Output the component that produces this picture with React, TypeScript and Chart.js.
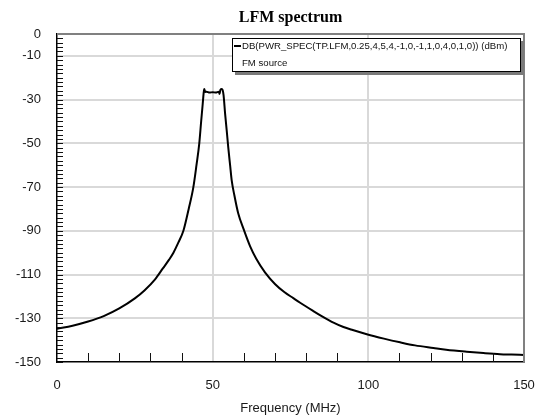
import React, { useEffect, useRef } from "react";
import { Chart, registerables } from "chart.js";

Chart.register(...registerables);

const chartTitle = "LFM spectrum";
const legendLine1 = "DB(PWR_SPEC(TP.LFM,0.25,4,5,4,-1,0,-1,1,0,4,0,1,0)) (dBm)";
const legendLine2 = "FM source";
const xAxisTitle = "Frequency (MHz)";

const freqMHz = [
  0, 5, 10, 15, 20, 25, 28, 31.5, 34, 36, 37.4, 39, 40.6, 42.3, 43.8, 44.8, 45.7, 46.3, 46.8, 47.1,
  47.3, 47.6, 48, 49, 50, 51, 52, 52.2, 52.5, 52.9, 53.2, 53.5, 54, 54.5, 55, 55.6, 56.1, 57, 58.2,
  60, 62, 64, 66.8, 70, 73, 75.9, 78.1, 82, 85, 88.8, 92, 95, 99.5, 105, 110.2, 115, 120.9, 125,
  131.6, 137, 142.3, 146, 150,
];

const powerDbm = [
  -134.8, -133.4, -131.5, -129, -125.5, -120.9, -117.4, -112.2, -107.2, -103.2, -100, -95.3, -90,
  -80, -70, -60, -50, -40, -32, -27, -25.2, -26.5, -26.4, -26.8, -26.6, -26.8, -26.4, -27.4, -25.5,
  -25.2, -25.6, -28, -36.5, -44, -51.7, -60, -66.8, -74, -82, -89.5, -97, -102.8, -109, -114.3,
  -118, -120.8, -122.9, -126.4, -129, -132, -134, -135.4, -137.3, -139.3, -141, -142.4, -143.6,
  -144.4, -145.3, -145.9, -146.4, -146.6, -146.8,
];

const yTickValues = [0, -10, -30, -50, -70, -90, -110, -130, -150];
const xTickValues = [0, 50, 100, 150];
const xGridValues = [50, 100];
const yMinorStep = 2;
const xMinorStep = 10;

const SANS = '"Liberation Sans", Arial, sans-serif';
const SERIF = '"Liberation Serif", "Times New Roman", serif';

const decorPlugin = {
  id: "decor",
  afterDraw(chart: any) {
    const { ctx, chartArea: a, scales } = chart;
    const x = scales.x;
    const y = scales.y;
    ctx.save();

    ctx.strokeStyle = "#111";
    ctx.lineWidth = 1;
    for (let v = -150; v <= 0; v += yMinorStep) {
      const py = Math.round(y.getPixelForValue(v)) + 0.5;
      ctx.beginPath();
      ctx.moveTo(a.left, py);
      ctx.lineTo(a.left + 6, py);
      ctx.stroke();
    }
    for (let v = xMinorStep; v < 150; v += xMinorStep) {
      if (xGridValues.includes(v)) continue;
      const px = Math.round(x.getPixelForValue(v)) + 0.5;
      ctx.beginPath();
      ctx.moveTo(px, a.bottom);
      ctx.lineTo(px, a.bottom - 9);
      ctx.stroke();
    }

    ctx.strokeStyle = "#808080";
    ctx.lineWidth = 2;
    ctx.beginPath();
    ctx.moveTo(a.left, a.top);
    ctx.lineTo(a.right, a.top);
    ctx.lineTo(a.right, a.bottom);
    ctx.stroke();

    ctx.fillStyle = "#000";
    ctx.font = `bold 16px ${SERIF}`;
    ctx.textAlign = "center";
    ctx.textBaseline = "alphabetic";
    ctx.fillText(chartTitle, (a.left + a.right) / 2, 22);

    const bx = 232, by = 38, bw = 289, bh = 34;
    ctx.fillStyle = "#7a7a7a";
    ctx.fillRect(bx + 3, by + 3, bw, bh);
    ctx.fillStyle = "#fff";
    ctx.fillRect(bx, by, bw, bh);
    ctx.strokeStyle = "#000";
    ctx.lineWidth = 1;
    ctx.strokeRect(bx + 0.5, by + 0.5, bw - 1, bh - 1);

    ctx.strokeStyle = "#000";
    ctx.lineWidth = 2;
    ctx.beginPath();
    ctx.moveTo(bx + 2, by + 8);
    ctx.lineTo(bx + 9, by + 8);
    ctx.stroke();

    ctx.fillStyle = "#111";
    ctx.font = `9.6px ${SANS}`;
    ctx.textAlign = "left";
    ctx.textBaseline = "middle";
    ctx.fillText(legendLine1, bx + 10, by + 8.5);
    ctx.fillText(legendLine2, bx + 10, by + 25);

    ctx.restore();
  },
};

export default function App() {
  const canvasRef = useRef<HTMLCanvasElement | null>(null);

  useEffect(() => {
    const canvas = canvasRef.current;
    if (!canvas) return;
    const points = freqMHz.map((f, i) => ({ x: f, y: powerDbm[i] }));
    const chart = new Chart(canvas, {
      type: "line",
      data: {
        datasets: [
          {
            label: legendLine1,
            data: points,
            borderColor: "#000",
            borderWidth: 2,
            pointRadius: 0,
            cubicInterpolationMode: "monotone",
            fill: false,
          },
        ],
      },
      options: {
        responsive: false,
        animation: false,
        devicePixelRatio: 1,
        layout: { padding: { top: 34, right: 11, left: 0, bottom: 0 } },
        plugins: {
          legend: { display: false },
          title: { display: false },
          tooltip: { enabled: false },
        },
        scales: {
          x: {
            type: "linear",
            min: 0,
            max: 150,
            afterBuildTicks: (scale: any) => {
              scale.ticks = xTickValues.map((v) => ({ value: v }));
            },
            afterFit: (scale: any) => {
              scale.height = 57;
              scale.paddingLeft = 0;
              scale.paddingRight = 0;
            },
            ticks: {
              font: { family: SANS, size: 13 },
              color: "#1a1a1a",
              padding: 16,
              maxRotation: 0,
              autoSkip: false,
            },
            grid: {
              drawTicks: false,
              lineWidth: 2,
              color: (c: any) =>
                c.tick && xGridValues.includes(c.tick.value) ? "#d9d9d9" : "rgba(0,0,0,0)",
            },
            border: { display: true, color: "#000", width: 1.5 },
            title: {
              display: true,
              text: xAxisTitle,
              font: { family: SANS, size: 13 },
              color: "#1a1a1a",
              padding: { top: 0, bottom: 3 },
            },
          },
          y: {
            type: "linear",
            min: -150,
            max: 0,
            afterBuildTicks: (scale: any) => {
              scale.ticks = yTickValues.map((v) => ({ value: v }));
            },
            afterFit: (scale: any) => {
              scale.width = 57;
              scale.paddingTop = 0;
              scale.paddingBottom = 0;
            },
            ticks: {
              font: { family: SANS, size: 13 },
              color: "#1a1a1a",
              padding: 16,
              autoSkip: false,
            },
            grid: {
              drawTicks: false,
              lineWidth: 2,
              color: (c: any) =>
                c.tick && c.tick.value !== 0 && c.tick.value !== -150 ? "#d9d9d9" : "rgba(0,0,0,0)",
            },
            border: { display: true, color: "#000", width: 1.5 },
          },
        },
      },
      plugins: [decorPlugin],
    });
    return () => chart.destroy();
  }, []);

  return (
    <div style={{ position: "fixed", left: 0, top: 0, width: 535, height: 419, background: "#fff" }}>
      <canvas ref={canvasRef} width={535} height={419} style={{ display: "block" }} />
    </div>
  );
}
